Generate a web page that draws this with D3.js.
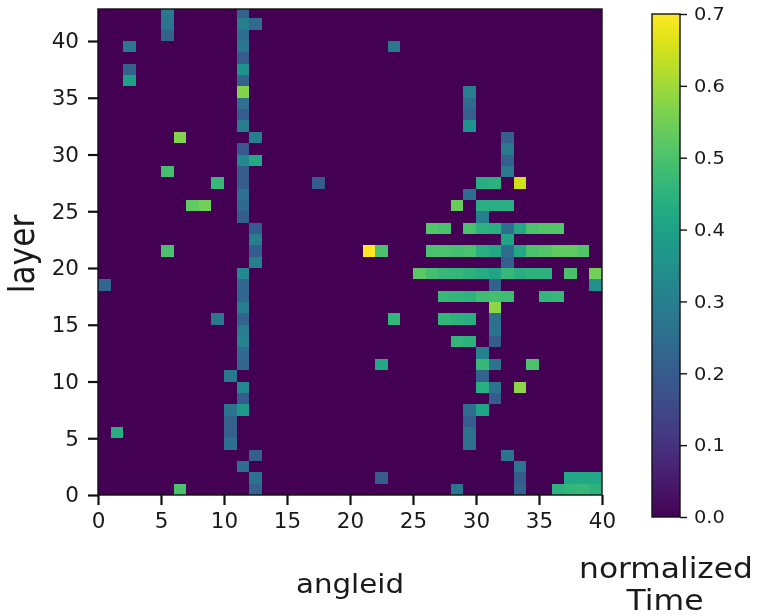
<!DOCTYPE html>
<html>
<head>
<meta charset="utf-8">
<script src="https://d3js.org/d3.v7.min.js"></script>
<style>
  html, body { margin: 0; padding: 0; background: #fff; }
  svg { display: block; filter: blur(0.55px); }
  text { font-family: "DejaVu Sans", sans-serif; fill: #1a1a1a; }
</style>
</head>
<body>
<div id="chart"></div>
<script>
// values, grouped by layer
const layers = [0, 1, 2, 3, 4, 5, 6, 7, 8, 9, 10, 11, 12, 13, 14, 15, 16, 17, 18, 19, 20, 21,
  22, 23, 24, 25, 26, 27, 28, 29, 30, 31, 32, 33, 34, 35, 36, 37, 38, 39, 40, 41, 42];
const angleIds = [
  [6, 12, 28, 33, 36, 37, 38, 39],
  [12, 22, 33, 37, 38, 39],
  [11, 33],
  [12, 32],
  [10, 29],
  [1, 10, 29],
  [10, 29],
  [10, 11, 29, 30],
  [11, 31],
  [11, 30, 31, 33],
  [10, 30],
  [11, 22, 30, 31, 34],
  [11, 30],
  [11, 28, 29, 31],
  [11, 31],
  [9, 11, 23, 27, 28, 29, 31],
  [11, 31],
  [11, 27, 28, 29, 30, 31, 32, 35, 36],
  [0, 11, 31, 39],
  [11, 25, 26, 27, 28, 29, 30, 31, 32, 33, 34, 35, 37, 39],
  [12, 32],
  [5, 12, 21, 22, 26, 27, 28, 29, 30, 31, 32, 33, 34, 35, 36, 37, 38],
  [12, 32],
  [12, 26, 27, 29, 30, 31, 32, 33, 34, 35, 36],
  [11, 30],
  [7, 8, 11, 28, 30, 31, 32],
  [11, 29],
  [9, 11, 17, 30, 31, 33],
  [5, 11, 32],
  [11, 12, 32],
  [11, 32],
  [6, 12, 32],
  [11, 29],
  [11, 29],
  [11, 29],
  [11, 29],
  [2, 11],
  [2, 11],
  [11],
  [2, 11, 23],
  [5, 11],
  [5, 11, 12],
  [5, 11]
];
const times = [
  [0.5, 0.22, 0.27, 0.22, 0.45, 0.46, 0.47, 0.45],
  [0.26, 0.2, 0.2, 0.42, 0.42, 0.42],
  [0.25, 0.27],
  [0.21, 0.27],
  [0.25, 0.26],
  [0.44, 0.21, 0.26],
  [0.22, 0.2],
  [0.27, 0.38, 0.25, 0.41],
  [0.2, 0.2],
  [0.33, 0.44, 0.27, 0.58],
  [0.28, 0.22],
  [0.23, 0.42, 0.47, 0.27, 0.5],
  [0.24, 0.31],
  [0.31, 0.46, 0.45, 0.2],
  [0.29, 0.27],
  [0.28, 0.22, 0.46, 0.46, 0.45, 0.44, 0.25],
  [0.3, 0.58],
  [0.23, 0.47, 0.46, 0.45, 0.48, 0.49, 0.48, 0.46, 0.47],
  [0.23, 0.23, 0.22, 0.35],
  [0.33, 0.52, 0.49, 0.47, 0.46, 0.45, 0.43, 0.41, 0.47, 0.44, 0.45, 0.45, 0.5, 0.55],
  [0.3, 0.21],
  [0.5, 0.2, 0.7, 0.5, 0.5, 0.5, 0.49, 0.5, 0.44, 0.42, 0.25, 0.42, 0.5, 0.51, 0.53, 0.53, 0.51],
  [0.3, 0.41],
  [0.2, 0.51, 0.5, 0.5, 0.45, 0.44, 0.25, 0.42, 0.5, 0.51, 0.51],
  [0.2, 0.3],
  [0.53, 0.55, 0.24, 0.54, 0.44, 0.44, 0.44],
  [0.26, 0.25],
  [0.47, 0.2, 0.2, 0.44, 0.45, 0.65],
  [0.49, 0.2, 0.28],
  [0.33, 0.42, 0.21],
  [0.19, 0.28],
  [0.57, 0.3, 0.21],
  [0.29, 0.36],
  [0.2, 0.21],
  [0.25, 0.24],
  [0.57, 0.3],
  [0.4, 0.22],
  [0.22, 0.36],
  [0.2],
  [0.28, 0.28, 0.28],
  [0.22, 0.25],
  [0.27, 0.3, 0.24],
  [0.28, 0.22]
];
const xTicks = [0, 5, 10, 15, 20, 25, 30, 35, 40];
const yTicks = [0, 5, 10, 15, 20, 25, 30, 35, 40];
const colorTicks = [0, 0.1, 0.2, 0.3, 0.4, 0.5, 0.6, 0.7];

const width = 760, height = 616;
const plot = { left: 98, right: 602, top: 9, bottom: 495 };
const bar = { left: 652, right: 680, top: 14, bottom: 517 };
const stretch = 1.08; // colorbar labels come out a bit wider than tall

const svg = d3.select("#chart").append("svg")
  .attr("width", width)
  .attr("height", height);

//scale
const xScale = d3.scaleLinear().domain([0, 40]).range([plot.left, plot.right]);
const yScale = d3.scaleLinear().domain([0, 42.82]).range([plot.bottom, plot.top]);
const color = d3.scaleSequential(d3.interpolateViridis).domain([0, 0.7]);
const barScale = d3.scaleLinear().domain([0, 0.7]).range([bar.bottom, bar.top]);

svg.append("clipPath").attr("id", "plot-clip")
  .append("rect")
  .attr("x", plot.left).attr("y", plot.top)
  .attr("width", plot.right - plot.left)
  .attr("height", plot.bottom - plot.top);

// background is the zero colour
svg.append("rect")
  .attr("x", plot.left).attr("y", plot.top)
  .attr("width", plot.right - plot.left)
  .attr("height", plot.bottom - plot.top)
  .attr("fill", color(0));

const cells = layers.flatMap((layer, i) =>
  angleIds[i].map((angle, j) => ({ layer, angle, value: times[i][j] }))
);

svg.append("g").attr("clip-path", "url(#plot-clip)")
  .attr("shape-rendering", "crispEdges")
  .selectAll("rect")
  .data(cells)
  .join("rect")
  .attr("x", (d) => xScale(d.angle))
  .attr("y", (d) => yScale(d.layer + 1))
  .attr("width", (d) => xScale(d.angle + 1) - xScale(d.angle))
  .attr("height", (d) => yScale(d.layer) - yScale(d.layer + 1))
  .attr("fill", (d) => color(d.value));

//axis
const xAxis = svg.append("g")
  .attr("transform", `translate(0,${plot.bottom})`)
  .call(d3.axisBottom(xScale).tickValues(xTicks).tickSize(10).tickPadding(8));
const yAxis = svg.append("g")
  .attr("transform", `translate(${plot.left},0)`)
  .call(d3.axisLeft(yScale).tickValues(yTicks).tickSize(10).tickPadding(9));
[xAxis, yAxis].forEach((a) => {
  a.selectAll("text").style("font-size", "21.5px");
  a.selectAll("line").attr("stroke", "#111").attr("stroke-width", 2.2);
  a.select(".domain").remove();
});

svg.append("rect")
  .attr("x", plot.left).attr("y", plot.top)
  .attr("width", plot.right - plot.left)
  .attr("height", plot.bottom - plot.top)
  .attr("fill", "none")
  .attr("stroke", "#111")
  .attr("stroke-width", 1.4);

// colorbar
const grad = svg.append("linearGradient")
  .attr("id", "bar-grad")
  .attr("x1", 0).attr("x2", 0).attr("y1", 1).attr("y2", 0);
grad.selectAll("stop")
  .data(d3.range(0, 1.001, 0.05))
  .join("stop")
  .attr("offset", (d) => d)
  .attr("stop-color", (d) => d3.interpolateViridis(d));

svg.append("rect")
  .attr("x", bar.left).attr("y", bar.top)
  .attr("width", bar.right - bar.left)
  .attr("height", bar.bottom - bar.top)
  .attr("fill", "url(#bar-grad)")
  .attr("stroke", "#111")
  .attr("stroke-width", 1.4);

const barAxis = svg.append("g")
  .attr("transform", `translate(${bar.right},0)`)
  .call(d3.axisRight(barScale).tickValues(colorTicks).tickFormat(d3.format(".1f")).tickSize(7).tickPadding(7));
barAxis.selectAll("text")
  .style("font-size", "18px")
  .attr("x", function () { return +this.getAttribute("x") / stretch; })
  .attr("transform", `scale(${stretch},1)`);
barAxis.selectAll("line").attr("stroke", "#111").attr("stroke-width", 1.4);
barAxis.select(".domain").remove();

//label
svg.append("text")
  .attr("transform", "translate(33.5,254) rotate(270) scale(0.95,1.05)")
  .attr("text-anchor", "middle")
  .style("font-size", "33px")
  .text("layer");
svg.append("text")
  .attr("transform", "translate(350,593) scale(1.086,1)")
  .attr("text-anchor", "middle")
  .style("font-size", "27px")
  .text("angleid");
svg.append("text")
  .attr("transform", "translate(666,578) scale(1.098,1)")
  .attr("text-anchor", "middle")
  .style("font-size", "28.5px")
  .text("normalized");
svg.append("text")
  .attr("transform", "translate(665,610) scale(1.085,1)")
  .attr("text-anchor", "middle")
  .style("font-size", "29px")
  .text("Time");
</script>
</body>
</html>
